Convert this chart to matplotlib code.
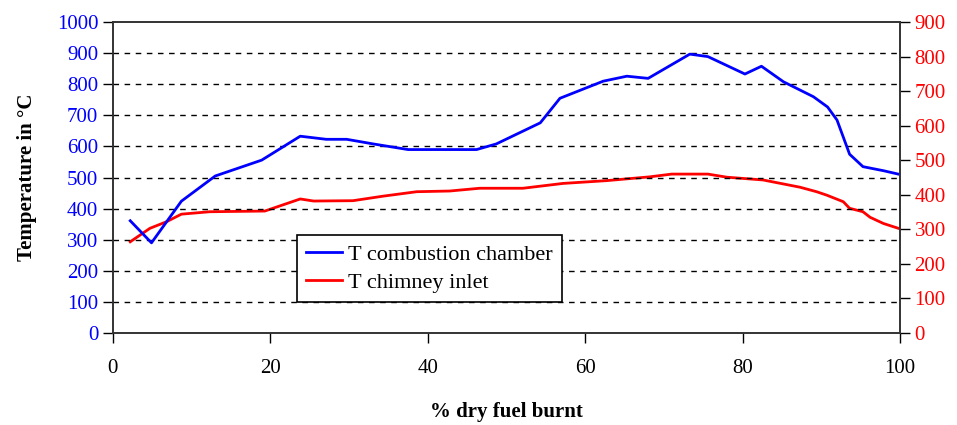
import matplotlib
matplotlib.use('Agg')
import matplotlib.pyplot as plt

plt.rcParams['font.family'] = ['Liberation Serif', 'DejaVu Serif']

# T combustion chamber (left axis)
x_chamber = [2.2, 4.9, 8.7, 13.0, 18.9, 23.8, 27.1, 29.7, 33.1, 37.5, 42.8, 46.2, 48.7,
             54.3, 56.8, 62.3, 65.3, 68.0, 73.3, 75.6, 80.3, 82.4, 85.2, 89.0, 90.8,
             92.0, 93.6, 95.3, 97.9, 99.8]
t_chamber = [361, 290, 424, 505, 556, 633, 623, 623, 608, 590, 590, 590, 608,
             676, 755, 810, 826, 819, 897, 889, 833, 858, 808, 760, 727,
             685, 575, 535, 522, 511]

# T chimney inlet (right axis)
x_chimney = [2.2, 4.7, 6.8, 8.7, 12.3, 19.3, 23.8, 25.5, 30.5, 34.3, 38.6, 42.8, 46.6,
             52.1, 57.2, 62.7, 68.2, 71.0, 75.6, 78.0, 82.6, 87.3, 89.4, 90.7, 92.8,
             93.6, 95.3, 96.2, 97.9, 99.8]
t_chimney = [264, 303, 322, 344, 351, 353, 388, 382, 383, 396, 409, 411, 419,
             419, 433, 441, 452, 460, 460, 451, 443, 422, 409, 399, 380,
             361, 351, 335, 317, 303]

fig = plt.figure(figsize=(9.57, 4.25), dpi=100)
ax = fig.add_axes([0.118, 0.2165, 0.8224, 0.7315])
ax2 = ax.twinx()

l1, = ax.plot(x_chamber, t_chamber, color='#0000ff', lw=2, label='T combustion chamber')
l2, = ax2.plot(x_chimney, t_chimney, color='#ff0000', lw=2, label='T chimney inlet')

ax.set_xlim(0, 100)
ax.set_ylim(0, 1000)
ax2.set_ylim(0, 900)
ax.set_xticks(range(0, 101, 20))
ax.set_yticks(range(0, 1001, 100))
ax2.set_yticks(range(0, 901, 100))

for y in range(100, 1000, 100):
    ax.axhline(y, color='black', lw=1, ls=(0, (4, 4)), zorder=0)

ax.tick_params(axis='x', direction='out', length=7, labelsize=15, pad=12, width=1)
ax.tick_params(axis='y', direction='out', length=7, labelsize=15, labelcolor='#0000ff', width=1)
ax2.tick_params(axis='y', direction='out', length=7, labelsize=15, labelcolor='#ff0000', width=1)

for a in (ax, ax2):
    for s in a.spines.values():
        s.set_linewidth(1.2)
        s.set_color('#333333')

ax.set_xlabel('% dry fuel burnt', fontsize=15, fontweight='bold', labelpad=17)
ax.set_ylabel('Temperature in °C', fontsize=15, fontweight='bold', labelpad=14)

leg = ax.legend(handles=[l1, l2], loc='upper left', bbox_to_anchor=(0.234, 0.315),
                borderaxespad=0, fontsize=16, frameon=True, fancybox=False, framealpha=1,
                edgecolor='black', handlelength=1.6, handletextpad=0.3,
                borderpad=0.4, labelspacing=0.35)
leg.get_frame().set_linewidth(1.2)
ax2.set_zorder(0)
ax.set_zorder(1)
ax.patch.set_visible(False)

fig.savefig('out.png', dpi=100)
